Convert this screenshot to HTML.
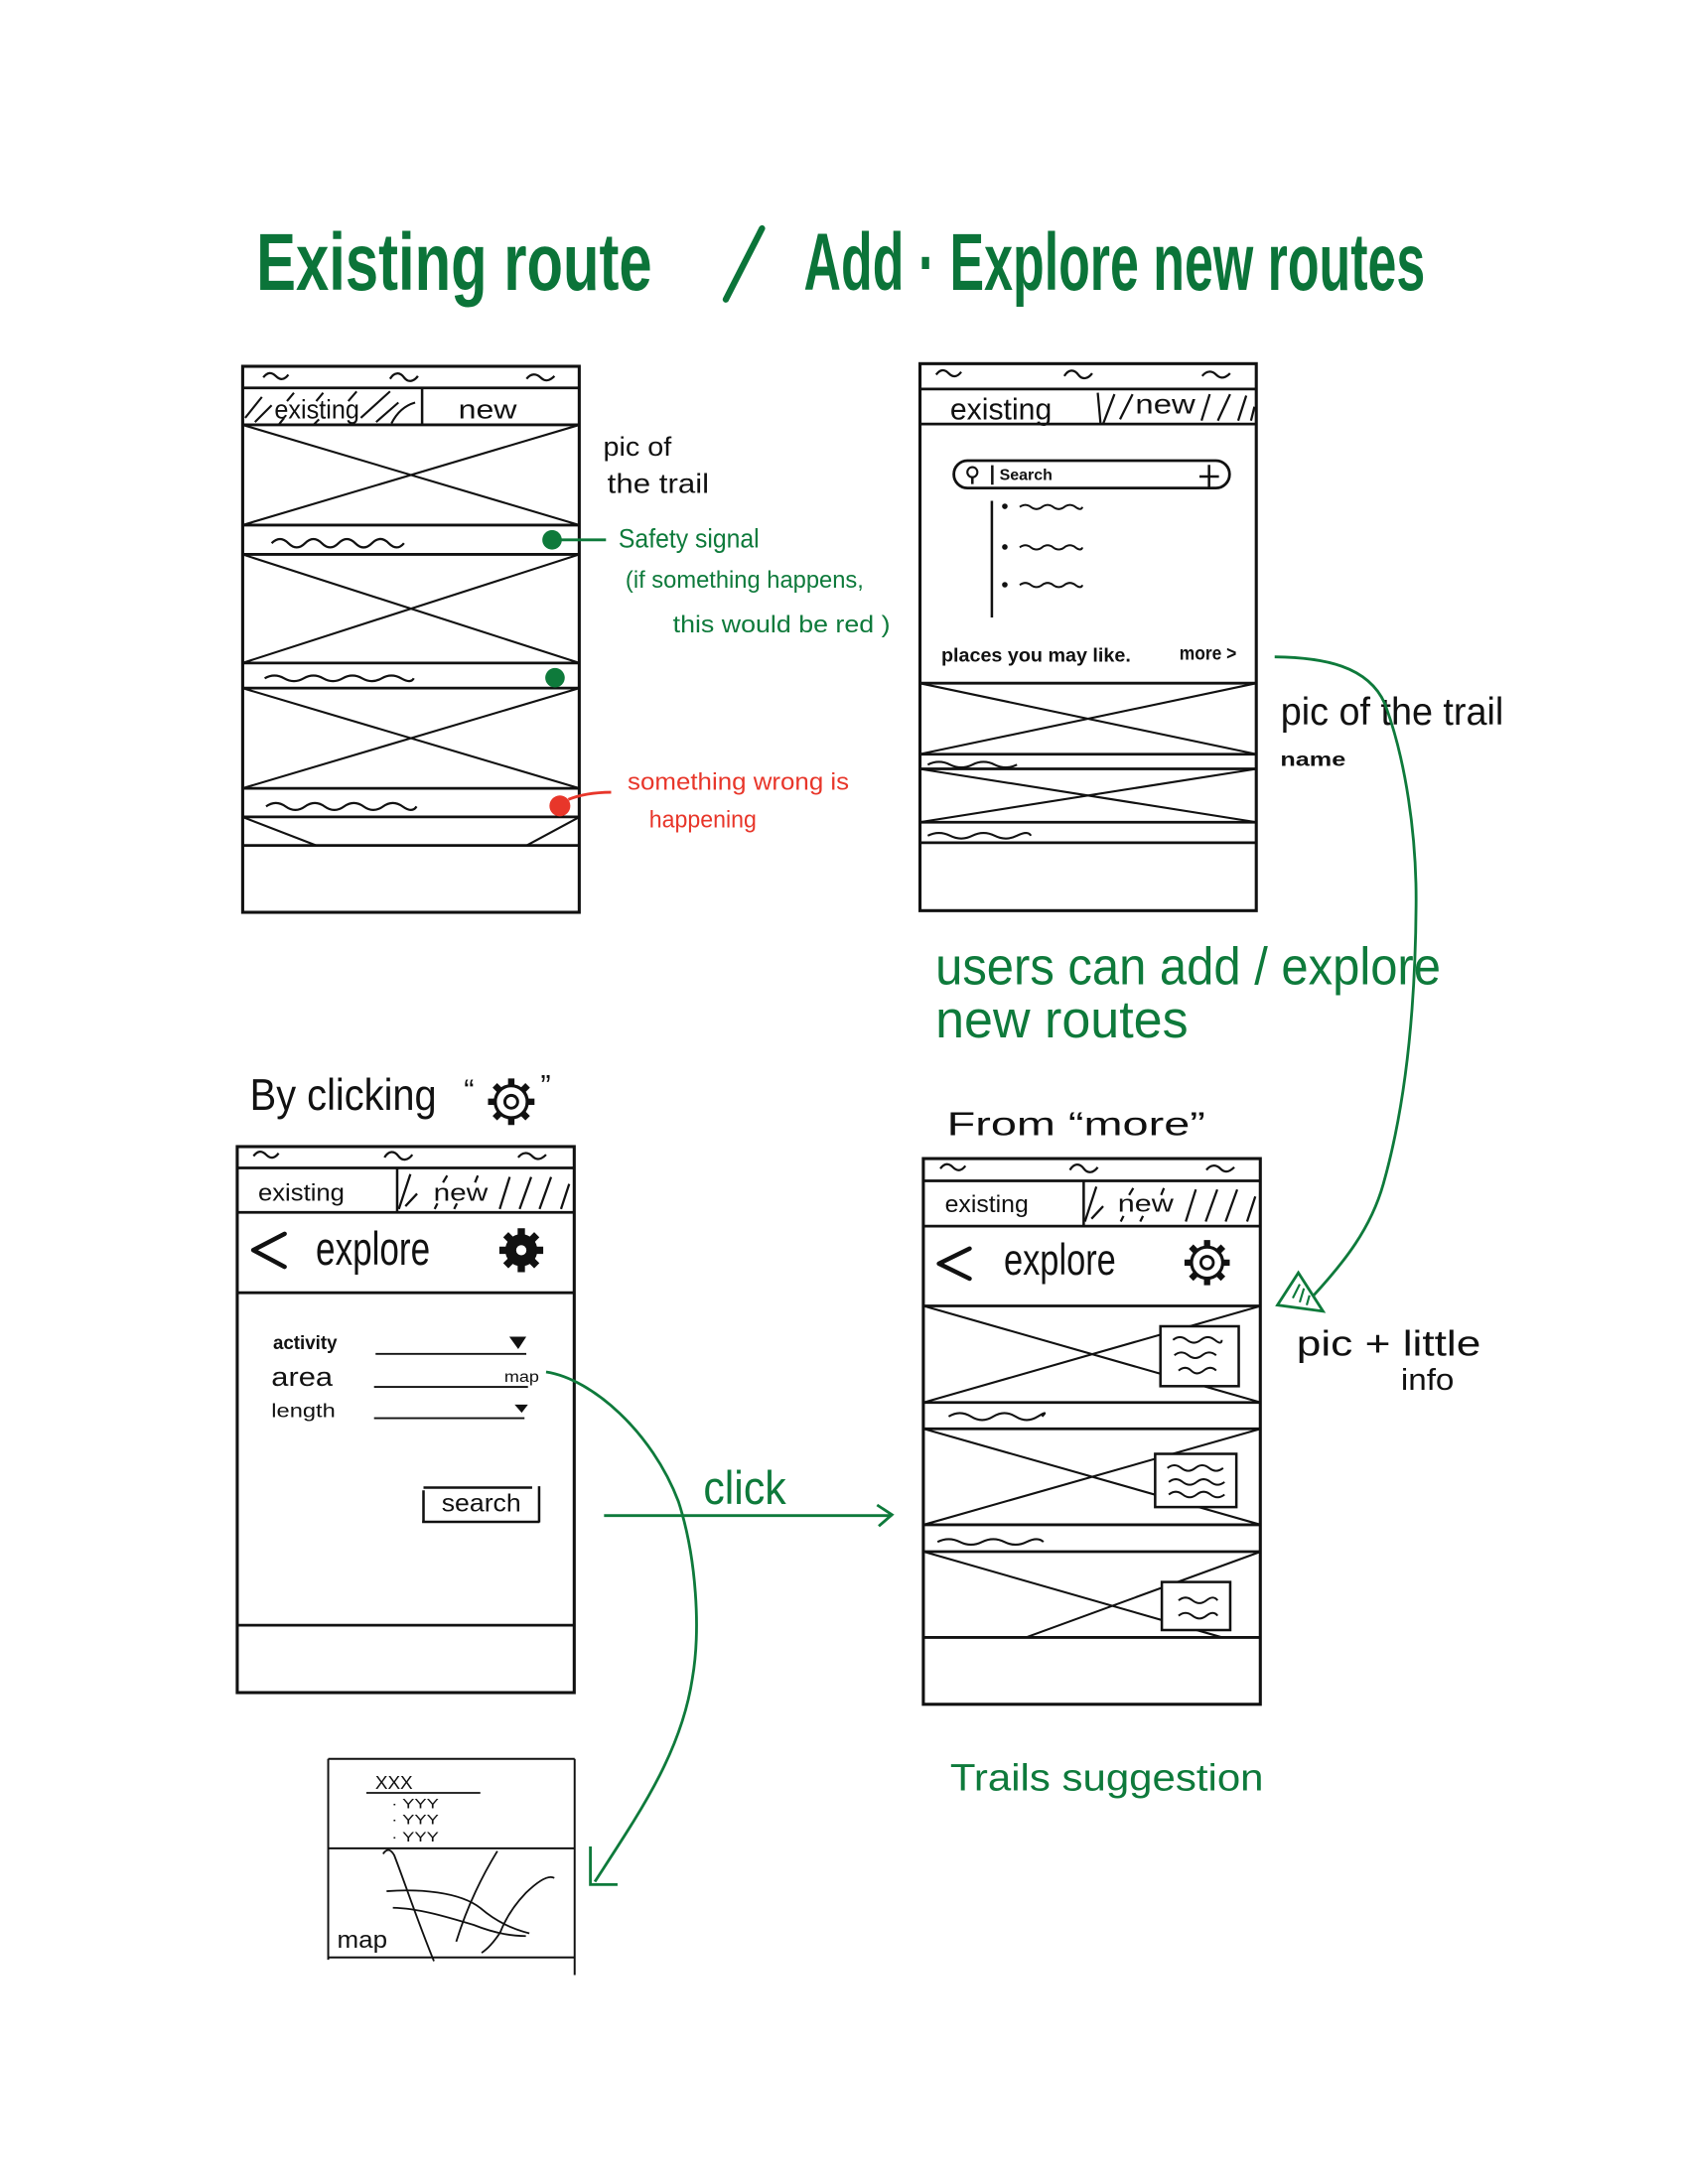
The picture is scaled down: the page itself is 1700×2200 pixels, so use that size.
<!DOCTYPE html>
<html><head><meta charset="utf-8">
<style>
html,body{margin:0;padding:0;background:#fff;}
svg{display:block;}
text{font-family:"Liberation Sans",sans-serif;}
</style></head>
<body>
<svg xmlns="http://www.w3.org/2000/svg" width="1700" height="2200" viewBox="0 0 1211.7 1568" preserveAspectRatio="none">
<defs>
<g id="gearO">
  <circle r="10" fill="none" stroke="#111" stroke-width="2"/>
  <circle r="4" fill="none" stroke="#111" stroke-width="1.8"/>
  <path d="M10 0L14.5 0M7.07 7.07L10.25 10.25M0 10L0 14.5M-7.07 7.07L-10.25 10.25M-10 0L-14.5 0M-7.07 -7.07L-10.25 -10.25M0 -10L0 -14.5M7.07 -7.07L10.25 -10.25" stroke="#111" stroke-width="4" fill="none"/>
</g>
<g id="gearF">
  <circle r="11" fill="#111"/>
  <path d="M10 0L15 0M7.07 7.07L10.6 10.6M0 10L0 15M-7.07 7.07L-10.6 10.6M-10 0L-15 0M-7.07 -7.07L-10.6 -10.6M0 -10L0 -15M7.07 -7.07L10.6 -10.6" stroke="#111" stroke-width="5" fill="none"/>
  <circle r="3.5" fill="#fff"/>
</g>
</defs>

<rect width="1211.7" height="1568" fill="#fff"/>

<!-- TITLE -->
<g fill="#0b7439" font-weight="bold">
  <text x="184" y="208" font-size="58" textLength="284" lengthAdjust="spacingAndGlyphs">Existing route</text>
  <text x="577" y="208" font-size="58" textLength="446" lengthAdjust="spacingAndGlyphs">Add · Explore new routes</text>
</g>
<path d="M547 164 L521 215" stroke="#0b7439" stroke-width="4.5" stroke-linecap="round"/>

<!-- ============ PHONE 1 ============ -->
<g stroke="#111" fill="none">
  <rect x="174.2" y="263" width="241.6" height="392" stroke-width="2.2"/>
  <path d="M174 278.5H416M174 305H416M174 377H416M174 398H416M174 476H416M174 494H416M174 566H416M174 586.5H416M174 607H416" stroke-width="2"/>
  <path d="M303 278.5V305" stroke-width="1.8"/>
  <path d="M174 305L416 377M416 305L174 377M174 398L416 476M416 398L174 476M174 494L416 566M416 494L174 566M174 586.5L227 607M416 586.5L378 607" stroke-width="1.5"/>
  <!-- status ~ -->
  <path d="M189 271c3 -4 6 -4 9 -1s6 3 9 -1M280 272c3 -5 7 -5 10 -1s7 3 10 -1M378 272c3 -4 7 -4 10 -1s6 3 10 -1" stroke-width="1.6"/>
  <!-- hatch -->
  <path d="M176 300L188 285M183 303L195 291M206 288L211 282M227 288L232 282M250 288L256 281M259 300L280 281M270 303L286 289M281 304C285 296 291 291 298 289M200 305L204 300M225 305L229 301" stroke-width="1.5"/>
  <!-- wavy -->
  <path d="M195 390q6 -6 12 0t12 0t12 0t12 0t12 0t12 0t12 0t11 0" stroke-width="1.6"/>
  <path d="M190 487q7 -4 14 0t14 0t14 0t14 0t14 0t14 0t14 0t9 0" stroke-width="1.6"/>
  <path d="M191 579q7 -5 14 0t14 0t14 0t14 0t14 0t14 0t14 0t10 0" stroke-width="1.6"/>
</g>
<g fill="#111">
  <text x="197" y="300.5" font-size="19" textLength="61" lengthAdjust="spacingAndGlyphs">existing</text>
  <text x="329" y="300.5" font-size="19" textLength="42" lengthAdjust="spacingAndGlyphs">new</text>
</g>
<circle cx="396.3" cy="387.6" r="7" fill="#0e7a3b"/>
<circle cx="398.4" cy="486.6" r="7" fill="#0e7a3b"/>
<circle cx="401.9" cy="578.6" r="7.5" fill="#e8362a"/>
<path d="M402 387.6H435" stroke="#0e7a3b" stroke-width="2"/>
<path d="M408 574Q420 569 438.7 568.8" stroke="#e8362a" stroke-width="2" fill="none"/>

<g fill="#111">
  <text x="433" y="327" font-size="19" textLength="49" lengthAdjust="spacingAndGlyphs">pic of</text>
  <text x="436" y="354" font-size="20" textLength="73" lengthAdjust="spacingAndGlyphs">the trail</text>
</g>
<g fill="#0e7a3b">
  <text x="444" y="393" font-size="19" textLength="101" lengthAdjust="spacingAndGlyphs">Safety signal</text>
  <text x="449" y="422" font-size="17" textLength="171" lengthAdjust="spacingAndGlyphs">(if something happens,</text>
  <text x="483" y="454" font-size="17" textLength="156" lengthAdjust="spacingAndGlyphs">this would be red )</text>
</g>
<g fill="#e8362a">
  <text x="450.5" y="567" font-size="17" textLength="159" lengthAdjust="spacingAndGlyphs">something wrong is</text>
  <text x="466" y="594" font-size="17" textLength="77" lengthAdjust="spacingAndGlyphs">happening</text>
</g>

<!-- ============ PHONE 2 ============ -->
<g stroke="#111" fill="none">
  <rect x="660.4" y="261.1" width="241.4" height="392.7" stroke-width="2.2"/>
  <path d="M660 279.3H902M660 304.4H902M660 490.5H902M660 541.5H902M660 552H902M660 590.3H902M660 605H902" stroke-width="2"/>
  <path d="M660 490.5L902 541.5M902 490.5L660 541.5M660 552L902 590.3M902 552L660 590.3" stroke-width="1.5"/>
  <path d="M672 269c3 -4 6 -4 9 -1s6 3 9 -1M764 270c3 -5 7 -5 10 -1s7 3 10 -1M863 270c3 -4 7 -4 10 -1s6 3 10 -1" stroke-width="1.6"/>
  <!-- hatch right -->
  <path d="M788 282L790 304M792 304L800 283M804 301L813 283M862.5 302L868.4 283M874.2 302L883 283M888.8 302L894.6 284M898 302L900.5 292" stroke-width="1.6"/>
  <!-- search bar -->
  <rect x="684.7" y="330.7" width="197.9" height="19.7" rx="9.8" stroke-width="2"/>
  <circle cx="698" cy="339" r="3.6" stroke-width="1.5"/>
  <path d="M698 342.5V347.5M712.3 334V348M861 342.1H875M867.9 333.7V350.4" stroke-width="1.8"/>
  <!-- list -->
  <path d="M712 359.6V443.3" stroke-width="1.8"/>
  <path d="M732 364q4 -3 8 0t8 0t8 0t8 0t8 0t5 0M732 393q4 -3 8 0t8 0t8 0t8 0t8 0t5 0M732 420q4 -3 8 0t8 0t8 0t8 0t8 0t5 0" stroke-width="1.4"/>
  <path d="M666 549q8 -4 16 0t16 0t16 0t16 0" stroke-width="1.5"/>
  <path d="M666 600q8 -4 16 0t16 0t16 0t16 0t10 0" stroke-width="1.5"/>
</g>
<g fill="#111">
  <circle cx="721.3" cy="363.5" r="2"/>
  <circle cx="721.3" cy="392.7" r="2"/>
  <circle cx="721.3" cy="419.8" r="2"/>
  <text x="682" y="301" font-size="22" textLength="73" lengthAdjust="spacingAndGlyphs">existing</text>
  <text x="815" y="297" font-size="20" textLength="43" lengthAdjust="spacingAndGlyphs">new</text>
  <text x="717.5" y="344.5" font-size="11" font-weight="bold" textLength="38" lengthAdjust="spacingAndGlyphs">Search</text>
  <text x="675.7" y="475" font-size="14" font-weight="bold" textLength="136" lengthAdjust="spacingAndGlyphs">places you may like.</text>
  <text x="846.6" y="473.6" font-size="14" font-weight="bold" textLength="41" lengthAdjust="spacingAndGlyphs">more &gt;</text>
  <text x="919.3" y="520.3" font-size="28" textLength="160" lengthAdjust="spacingAndGlyphs">pic of the trail</text>
  <text x="919" y="550" font-size="14" font-weight="bold" textLength="47" lengthAdjust="spacingAndGlyphs">name</text>
</g>

<!-- green curve from more -->
<path d="M915 471.6C950 472 982 478 994 505C1009 545 1017 600 1016.5 650C1016 720 1010 790 993 850C984 882 965 906 943 930" stroke="#0e7a3b" stroke-width="2" fill="none"/>
<path d="M917 937L932 913.8L949.7 941.4Z" stroke="#0e7a3b" stroke-width="2" fill="none"/>
<path d="M928 932L933 922M933 935L936 925M938 937L940 930" stroke="#0e7a3b" stroke-width="1.5" fill="none"/>

<g fill="#0e7a3b">
  <text x="671.5" y="706.8" font-size="38" textLength="362.7" lengthAdjust="spacingAndGlyphs">users can add / explore</text>
  <text x="671.5" y="744.8" font-size="38" textLength="181.4" lengthAdjust="spacingAndGlyphs">new routes</text>
</g>

<!-- ============ BY CLICKING ============ -->
<g fill="#111">
  <text x="179.4" y="797" font-size="32" textLength="134" lengthAdjust="spacingAndGlyphs">By clicking</text>
  <text x="333" y="790" font-size="22">“</text>
  <text x="388" y="787" font-size="22">”</text>
</g>
<use href="#gearO" transform="translate(367 791) scale(1.15)"/>

<!-- ============ PHONE 3 ============ -->
<g stroke="#111" fill="none">
  <rect x="170.3" y="823.2" width="241.9" height="392" stroke-width="2.2"/>
  <path d="M170 838.5H412M170 870.4H412M170 928.1H412M170 1166.8H412" stroke-width="2"/>
  <path d="M285.1 838.5V870.4" stroke-width="1.8"/>
  <path d="M182 830c3 -4 6 -4 9 -1s6 3 9 -1M276 831c3 -5 7 -5 10 -1s7 3 10 -1M372 831c3 -4 7 -4 10 -1s6 3 10 -1" stroke-width="1.6"/>
  <path d="M286.3 868L294.6 843M291 866L299.4 857M312 868L314 864M326 868L328 864M318 849L321 844M341 849L343 844M358.7 868L365.9 845M373 868L381.3 845M387.3 868L395.6 845M402.7 868L408.6 850" stroke-width="1.6"/>
  <path d="M204.3 885.8L181.8 897.5L204.3 909.5" stroke-width="3.2" stroke-linecap="round" stroke-linejoin="round"/>
  <path d="M269.6 972H377.8M268.5 995.7H379M268.5 1018.2H376.5" stroke-width="1.3"/>
  <path d="M304 1070V1093M303 1092.6H387.3M387 1067V1093M304 1068H382" stroke-width="1.8"/>
</g>
<use href="#gearF" transform="translate(374.2 897.6) scale(1.05)"/>
<g fill="#111">
  <path d="M365.6 959.7L377.8 959.7L372 968.6Z"/>
  <path d="M369.4 1008.4L379 1008.4L374.5 1014.3Z"/>
  <text x="185.3" y="862" font-size="17" textLength="62" lengthAdjust="spacingAndGlyphs">existing</text>
  <text x="311.2" y="862" font-size="17" textLength="39" lengthAdjust="spacingAndGlyphs">new</text>
  <text x="226.7" y="908" font-size="34" textLength="82" lengthAdjust="spacingAndGlyphs">explore</text>
  <text x="196" y="968.6" font-size="14" font-weight="bold" textLength="46" lengthAdjust="spacingAndGlyphs">activity</text>
  <text x="194.8" y="995" font-size="19" textLength="44" lengthAdjust="spacingAndGlyphs">area</text>
  <text x="362" y="992" font-size="11" textLength="25" lengthAdjust="spacingAndGlyphs">map</text>
  <text x="194.8" y="1017.3" font-size="14" textLength="46" lengthAdjust="spacingAndGlyphs">length</text>
  <text x="317" y="1085" font-size="18" textLength="57" lengthAdjust="spacingAndGlyphs">search</text>
</g>

<!-- green curve from map -->
<path d="M392 985C425 990 468 1028 487 1078C500 1118 503 1170 497 1205C489 1258 460 1300 427 1351" stroke="#0e7a3b" stroke-width="2" fill="none"/>
<path d="M423.8 1325.7V1353H443.3" stroke="#0e7a3b" stroke-width="2" fill="none"/>

<!-- click arrow -->
<path d="M433.6 1088.1H640.3M629.6 1080.5L640.3 1087.5L630.8 1095.7" stroke="#0e7a3b" stroke-width="2" fill="none"/>
<text x="504.9" y="1079.8" font-size="34" fill="#0e7a3b" textLength="59.4" lengthAdjust="spacingAndGlyphs">click</text>

<!-- ============ MAP CARD ============ -->
<g stroke="#111" fill="none">
  <path d="M235.6 1262.8H412.5M235.6 1262.8V1407M412.5 1262.8V1418M235.6 1327H412.5M235.6 1405.3H412.5" stroke-width="1.4"/>
  <path d="M263 1287.2H344.8" stroke-width="1.3"/>
  <path d="M275 1331Q279 1325 283 1332C290 1350 300 1380 311.5 1408" stroke-width="1.3"/>
  <path d="M357 1329Q338 1360 327.5 1394" stroke-width="1.3"/>
  <path d="M397.9 1348.3Q392 1345 377.5 1359Q365 1372 359 1387.5Q352 1398 345.7 1402" stroke-width="1.3"/>
  <path d="M277.5 1357.8C300 1356 330 1358 345 1370Q360 1383 380 1388" stroke-width="1.3"/>
  <path d="M282 1369.7C300 1370 320 1376 340 1382Q360 1390 377.5 1390" stroke-width="1.3"/>
</g>
<g fill="#111">
  <text x="269.3" y="1284.2" font-size="13" textLength="27" lengthAdjust="spacingAndGlyphs">XXX</text>
  <text x="281" y="1298.4" font-size="10" textLength="34" lengthAdjust="spacingAndGlyphs">· YYY</text>
  <text x="281" y="1309.5" font-size="10" textLength="34" lengthAdjust="spacingAndGlyphs">· YYY</text>
  <text x="281" y="1322" font-size="10" textLength="34" lengthAdjust="spacingAndGlyphs">· YYY</text>
  <text x="242" y="1398.2" font-size="17" textLength="36" lengthAdjust="spacingAndGlyphs">map</text>
</g>

<!-- ============ FROM MORE ============ -->
<text x="679.7" y="814.9" font-size="24" fill="#111" textLength="185.5" lengthAdjust="spacingAndGlyphs">From “more”</text>

<!-- ============ PHONE 4 ============ -->
<g stroke="#111" fill="none">
  <rect x="662.8" y="831.8" width="241.9" height="391.8" stroke-width="2.2"/>
  <path d="M663 847.8H905M663 880.3H905M663 937.6H905M663 1006.9H905M663 1025.8H905M663 1094.7H905M663 1114H905M663 1175.6H905" stroke-width="2"/>
  <path d="M777.9 847.8V880.3" stroke-width="1.8"/>
  <path d="M675 839c3 -4 6 -4 9 -1s6 3 9 -1M768 840c3 -5 7 -5 10 -1s7 3 10 -1M866 840c3 -4 7 -4 10 -1s6 3 10 -1" stroke-width="1.6"/>
  <path d="M778.8 877L787 852M783.5 875L791.9 866M804.5 877L806.5 873M818.5 877L820.5 873M810.5 858L813.5 853M833.5 858L835.5 853M851.2 877L858.4 854M865.5 877L873.8 854M879.8 877L888.1 854M895.2 877L901.1 859" stroke-width="1.6"/>
  <path d="M696 896.4L674 907.2L696 918" stroke-width="3.2" stroke-linecap="round" stroke-linejoin="round"/>
  <path d="M663 937.6L905 1006.9M905 937.6L663 1006.9M663 1025.8L905 1094.7M905 1025.8L663 1094.7M663 1114L877.4 1175.6M905 1114L736.4 1175.6" stroke-width="1.5"/>
  <path d="M681 1017q8 -5 16 0t16 0t16 0t16 0t3 0" stroke-width="1.5"/>
  <path d="M673 1107q8 -4 16 0t16 0t16 0t16 0t12 0" stroke-width="1.5"/>
</g>
<g stroke="#111" stroke-width="1.8" fill="#fff">
  <rect x="833" y="952.2" width="56.2" height="43"/>
  <rect x="829.2" y="1043.8" width="58.3" height="38.2"/>
  <rect x="834" y="1135.8" width="49.1" height="34.5"/>
</g>
<g stroke="#111" stroke-width="1.4" fill="none">
  <path d="M842 962q5 -4 10 0t10 0t10 0t5 0M843 973q5 -4 10 0t10 0t10 0M846 984q5 -4 9 0t9 0t9 0"/>
  <path d="M838 1054q5 -4 10 0t10 0t10 0t10 0M839 1064q5 -4 10 0t10 0t10 0t10 0M839 1073q5 -4 10 0t10 0t10 0t10 0"/>
  <path d="M846 1149q5 -4 10 0t10 0t8 0M846 1160q5 -4 10 0t10 0t8 0"/>
</g>
<use href="#gearO" transform="translate(866.5 906.5) scale(1.12)"/>
<g fill="#111">
  <text x="678.3" y="870.1" font-size="17" textLength="60" lengthAdjust="spacingAndGlyphs">existing</text>
  <text x="802.4" y="870" font-size="17" textLength="40" lengthAdjust="spacingAndGlyphs">new</text>
  <text x="720.6" y="915.2" font-size="32" textLength="80.4" lengthAdjust="spacingAndGlyphs">explore</text>
  <text x="930.7" y="973.4" font-size="26" textLength="132.3" lengthAdjust="spacingAndGlyphs">pic + little</text>
  <text x="1005.6" y="998" font-size="22" textLength="38.2" lengthAdjust="spacingAndGlyphs">info</text>
</g>

<text x="682" y="1285.3" font-size="27" fill="#0e7a3b" textLength="225" lengthAdjust="spacingAndGlyphs">Trails suggestion</text>
</svg>
</body></html>
